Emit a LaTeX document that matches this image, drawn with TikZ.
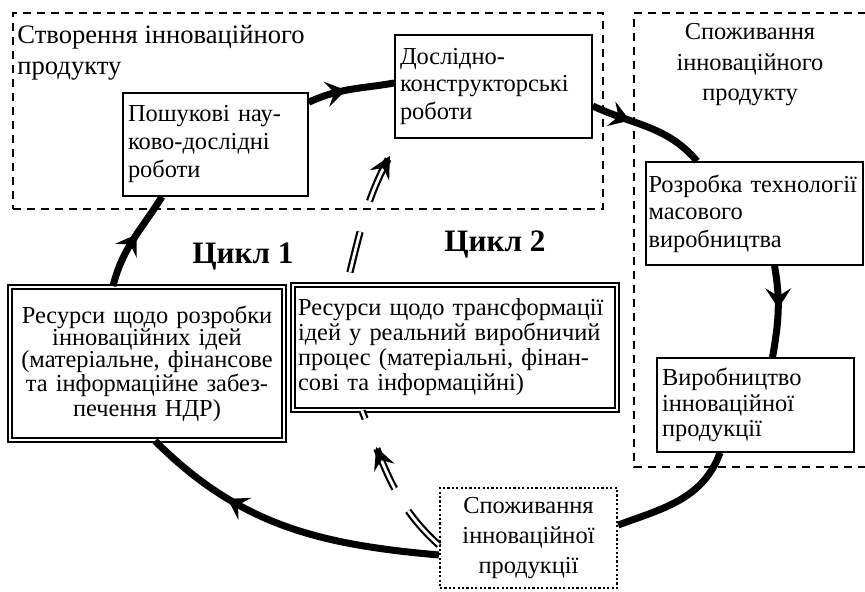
\documentclass[tikz,border=0pt]{standalone}
\usepackage{fontspec}
\setmainfont{Liberation Serif}
\usetikzlibrary{arrows.meta}
\usetikzlibrary{decorations.markings}

\begin{document}
\begin{tikzpicture}[x=0.5pt, y=0.5pt,
  box/.style={draw, line width=0.75pt, fill=white, align=left, inner sep=2.5pt, font=\fontsize{12.2}{14}\selectfont},
  dblbox/.style={draw, double, double distance=1.2pt, line width=0.9pt, fill=white, inner sep=2.5pt, font=\fontsize{12.2}{11}\selectfont},
  dotbox/.style={draw, line width=1.1pt, dash pattern=on 1.1pt off 1.1pt, fill=white, align=center, inner sep=2.5pt, font=\fontsize{12.2}{15}\selectfont},
  frame/.style={draw, line width=0.7pt, dash pattern=on 4pt off 3pt},
  ttl/.style={inner sep=2pt, font=\fontsize{12.2}{15.25}\selectfont},
  cyc/.style={font=\fontsize{15.6}{18}\selectfont\bfseries},
  flow/.style={line width=3.5pt},
  back/.style={double, double distance=1.4pt, line width=1.1pt},
  head/.style={decoration={markings, mark=at position #1 with {\fill[solid] (2pt,0pt) -- (-8pt,6.5pt) -- (-4pt,0pt) -- (-8pt,-6.5pt) -- cycle;}}, postaction={decorate}},
  dhead/.style={decoration={markings, mark=at position #1 with {\fill[solid] (2pt,0pt) -- (-9pt,5.5pt) -- (-5pt,0pt) -- (-9pt,-5.5pt) -- cycle;}}, postaction={decorate}}]
\useasboundingbox (0,0) rectangle (865,592);

\node [frame, minimum width=295pt, minimum height=98pt, name=create] at (308,481) {};
\node [ttl, anchor=north west, align=left, font=\fontsize{13.3}{15.5}\selectfont, name=createttl] at (13,571) {Створення інноваційного\\продукту};
\draw [frame] (866,579) -| (634,125) -- (866,125);
\node [ttl, align=center, name=usettl] at (750,527) {Споживання\\інноваційного\\продукту};

\node [box, text width=87.5pt, minimum height=51.5pt, name=search] at (215.5,447.5) {Пошукові нау-\\ково-дослідні\\роботи};
\node [box, text width=93.5pt, minimum height=51.5pt, font=\fontsize{12.2}{13.75}\selectfont, name=dk] at (493.5,505.5) {Дослідно-\\конструкторські\\роботи};
\node [box, text width=106pt, inner sep=1.25pt, minimum height=51.5pt, font=\fontsize{12.2}{13.75}\selectfont, name=tech] at (754.5,378.5) {Розробка технології\\масового\\виробництва};
\node [box, text width=93.5pt, minimum height=47pt, font=\fontsize{12.2}{12.75}\selectfont, name=prod] at (755.5,187) {Виробництво\\інноваційної\\продукції};
\node [dotbox, text width=83.5pt, minimum height=50pt, name=consume] at (528.5,54) {Споживання\\інноваційної\\продукції};
\node [dblbox, align=center, text width=132pt, minimum height=76.5pt, name=res1] at (147,228.5) {Ресурси щодо розробки\\інноваційних ідей\\(матеріальне, фінансове\\та інформаційне забез-\\печення НДР)};
\node [dblbox, align=left, text width=157pt, minimum height=62.5pt, font=\fontsize{12.2}{12.5}\selectfont, name=res2] at (455,244.5) {Ресурси щодо трансформації\\ідей у реальний виробничий\\процес (матеріальні, фінан-\\сові та інформаційні)};

\node [cyc, name=cyc1] at (243,335) {Цикл 1};
\node [cyc, name=cyc2] at (495,347) {Цикл 2};

\draw [flow, head=0.52] ([xshift=-17pt]res1.north) to[out=76, in=238] ([xshift=-26.75pt]search.south);
\draw [flow, head=0.4] ([yshift=-5pt]search.north east) to[out=25, in=190] ([yshift=1.75pt]dk.west);
\draw [flow, head=0.3] ([yshift=-9.75pt]dk.east) to[out=-25, in=130] ([xshift=-28.75pt]tech.north);
\draw [flow, head=0.42] ([xshift=10pt]tech.south) to[out=-80, in=80] ([xshift=8.5pt]prod.north);
\draw [flow] ([xshift=-17.75pt]prod.south) to[out=-110, in=20] ([yshift=6.5pt]consume.east);
\draw [flow, head=0.69] ([yshift=-8.5pt]consume.west) to[out=175, in=-45] ([xshift=4pt]res1.south);

\draw [back, dash pattern=on 23pt off 13pt on 22pt off 16pt on 8pt off 10pt, dhead=0.725] ([yshift=-3.5pt]consume.west) to[out=138, in=-68] ([xshift=-46.5pt]res2.south);
\draw [back, dash pattern=on 0pt off 6pt on 21pt off 16pt on 23pt off 12pt, dhead=0.846] ([xshift=-54pt]res2.north) to[out=76, in=-122] ([xshift=-46.75pt]dk.south);
\end{tikzpicture}
\end{document}
